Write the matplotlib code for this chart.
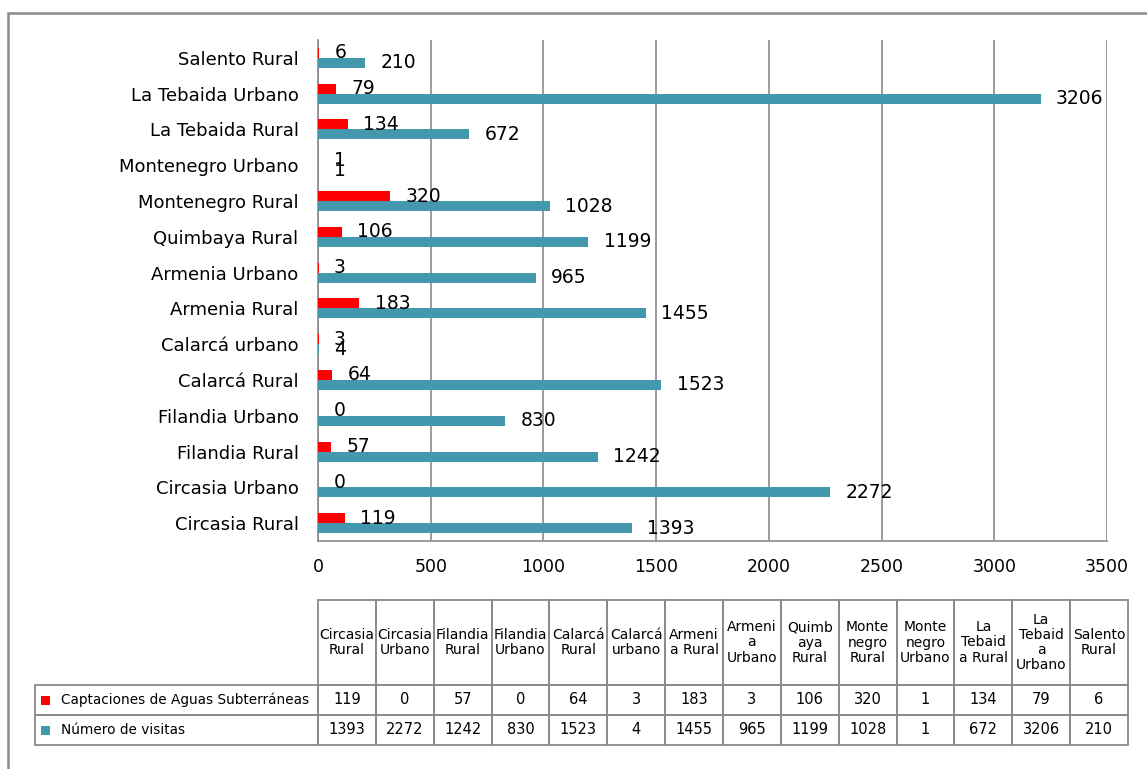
import matplotlib
matplotlib.use("Agg")
import matplotlib.pyplot as plt
import matplotlib.patches as mpatches
import numpy as np

# categories, bottom to top of the bar chart (= left to right in the table)
categories = [
    "Circasia Rural", "Circasia Urbano", "Filandia Rural", "Filandia Urbano",
    "Calarcá Rural", "Calarcá urbano", "Armenia Rural", "Armenia Urbano",
    "Quimbaya Rural", "Montenegro Rural", "Montenegro Urbano",
    "La Tebaida Rural", "La Tebaida Urbano", "Salento Rural",
]
# header text as wrapped in the table
table_headers = [
    "Circasia\nRural", "Circasia\nUrbano", "Filandia\nRural", "Filandia\nUrbano",
    "Calarcá\nRural", "Calarcá\nurbano", "Armeni\na Rural", "Armeni\na\nUrbano",
    "Quimb\naya\nRural", "Monte\nnegro\nRural", "Monte\nnegro\nUrbano",
    "La\nTebaid\na Rural", "La\nTebaid\na\nUrbano", "Salento\nRural",
]
captaciones = [119, 0, 57, 0, 64, 3, 183, 3, 106, 320, 1, 134, 79, 6]
visitas = [1393, 2272, 1242, 830, 1523, 4, 1455, 965, 1199, 1028, 1, 672, 3206, 210]
series_names = ["Captaciones de Aguas Subterráneas", "Número de visitas"]

RED = "#FF0000"
TEAL = "#4398AE"
GRID = "#8a8a8a"
W, H = 1147, 769

fig = plt.figure(figsize=(W / 100, H / 100), dpi=100)
fig.patch.set_facecolor("white")

# outer frame of the chart area
frame = mpatches.Rectangle((8 / W, -0.1), 1.2, 1.1 - 13 / H, transform=fig.transFigure,
                           fill=False, edgecolor=GRID, linewidth=1.8)
fig.patches.append(frame)

# ---- bar chart ----
ax = fig.add_axes([318 / W, 1 - 541 / H, (1107 - 318) / W, (541 - 40) / H])
y = np.arange(len(categories))
bh = 0.28
ax.barh(y + bh / 2, captaciones, height=bh, color=RED, zorder=3)
ax.barh(y - bh / 2, visitas, height=bh, color=TEAL, zorder=3)

for yi, v in zip(y, captaciones):
    ax.annotate(str(v), xy=(v, yi + bh / 2), xytext=(11, 0), textcoords="offset points",
                va="center", ha="left", fontsize=13.5, color="black", zorder=4)
for yi, v in zip(y, visitas):
    ax.annotate(str(v), xy=(v, yi - bh / 2), xytext=(11, 0), textcoords="offset points",
                va="center", ha="left", fontsize=13.5, color="black", zorder=4)

ax.set_xlim(0, 3500)
ax.set_ylim(-0.5, len(categories) - 0.5)
ax.set_xticks(np.arange(0, 3501, 500))
ax.set_yticks(y)
ax.set_yticklabels(categories)
ax.tick_params(axis="y", length=0, pad=14, labelsize=13)
ax.tick_params(axis="x", length=0, pad=12, labelsize=12.5)
ax.grid(axis="x", color=GRID, linewidth=1.2, zorder=0)
for s in ["top", "right"]:
    ax.spines[s].set_visible(False)
for s in ["left", "bottom"]:
    ax.spines[s].set_color(GRID)
    ax.spines[s].set_linewidth(1.2)

# ---- data table (drawn cell by cell, units = pixels of the table area) ----
tax = fig.add_axes([35 / W, 1 - 745 / H, (1128 - 35) / W, (745 - 600) / H])
tax.axis("off")
TW, TH = 1128 - 35, 745 - 600
tax.set_xlim(0, TW)
tax.set_ylim(TH, 0)
label_w = 318 - 35
col_w = (TW - label_w) / len(categories)
hdr_h = 85
row_h = (TH - hdr_h) / 2


def cell(x, yy, w, h, text, ha="center", fs=10.5):
    tax.add_patch(mpatches.Rectangle((x, yy), w, h, fill=False, edgecolor=GRID,
                                     linewidth=1.3, clip_on=False))
    tx = x + w / 2 if ha == "center" else x + 26
    tax.text(tx, yy + h / 2, text, ha=ha, va="center", fontsize=fs,
             linespacing=1.1, clip_on=False)


for j, h in enumerate(table_headers):
    cell(label_w + j * col_w, 0, col_w, hdr_h, h, fs=10)
for i, (name, vals, col) in enumerate(zip(series_names, [captaciones, visitas], [RED, TEAL])):
    ry = hdr_h + i * row_h
    cell(0, ry, label_w, row_h, name, ha="left", fs=9.8)
    tax.add_patch(mpatches.Rectangle((6, ry + row_h / 2 - 4.5), 9, 9, facecolor=col,
                                     edgecolor="none", clip_on=False))
    for j, v in enumerate(vals):
        cell(label_w + j * col_w, ry, col_w, row_h, str(v))

fig.savefig("out.png", dpi=100, facecolor="white")
